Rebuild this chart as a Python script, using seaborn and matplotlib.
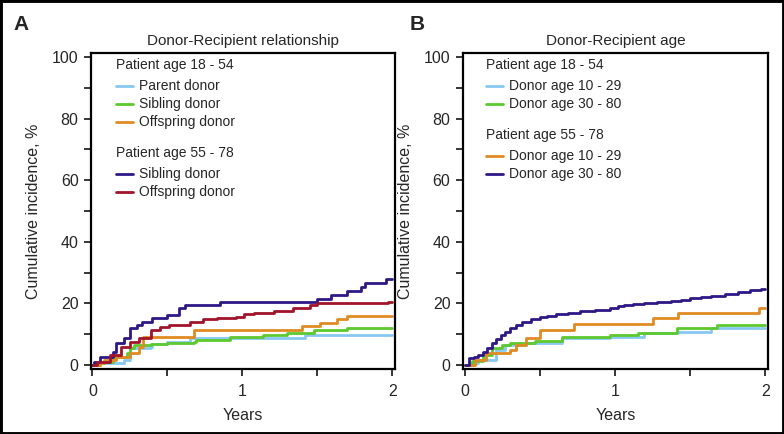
import numpy as np
import pandas as pd
import matplotlib
matplotlib.use('Agg')
import matplotlib.pyplot as plt
import seaborn as sns
from matplotlib.ticker import MultipleLocator
from matplotlib.patches import Rectangle

# Panel A: donor-recipient relationship (years, cumulative incidence %)
a_parent_t = [0, 0.03, 0.21, 0.25, 0.39, 0.40, 0.50, 0.65, 1.42, 2.0]
a_parent_v = [0, 0.7, 1.6, 5.4, 5.9, 6.8, 7.6, 8.7, 9.7, 9.7]
a_sibling_t = [0, 0.05, 0.14, 0.23, 0.25, 0.28, 0.39, 0.50, 0.68, 0.69, 0.92, 1.14, 1.30, 1.48, 1.70, 2.0]
a_sibling_v = [0, 1.0, 2.7, 3.8, 5.4, 6.5, 6.8, 7.2, 7.6, 8.1, 9.0, 9.7, 10.5, 11.4, 11.9, 11.9]
a_offspring_t = [0, 0.05, 0.08, 0.16, 0.25, 0.31, 0.34, 0.68, 1.40, 1.52, 1.63, 1.70, 2.0]
a_offspring_v = [0, 0.8, 1.6, 2.7, 3.8, 5.9, 9.2, 11.4, 12.5, 13.5, 14.8, 16.0, 16.0]
a_sib_old_t = [0, 0.01, 0.05, 0.14, 0.16, 0.21, 0.25, 0.30, 0.33, 0.40, 0.50, 0.58, 0.62, 0.85,
               1.50, 1.59, 1.70, 1.79, 1.82, 1.96, 2.0]
a_sib_old_v = [0, 1.0, 2.7, 4.3, 7.0, 8.7, 12.0, 13.0, 14.0, 15.2, 16.2, 18.4, 19.5, 20.6,
               21.4, 22.7, 24.1, 25.4, 26.7, 27.9, 27.9]
a_off_old_t = [0, 0.03, 0.12, 0.19, 0.25, 0.31, 0.39, 0.45, 0.51, 0.65, 0.74, 0.83, 0.96, 1.01,
               1.08, 1.21, 1.34, 1.45, 1.50, 1.97, 2.0]
a_off_old_v = [0, 1.0, 3.2, 5.9, 7.6, 8.7, 11.4, 12.2, 13.0, 14.1, 14.8, 15.2, 15.7, 16.5,
               17.0, 17.6, 18.4, 19.5, 20.0, 20.6, 20.6]

# Panel B: donor-recipient age
b_young_1029_t = [0, 0.04, 0.09, 0.21, 0.27, 0.41, 0.65, 0.97, 1.19, 1.41, 1.64, 2.0]
b_young_1029_v = [0, 0.8, 1.6, 4.9, 6.5, 7.2, 8.7, 9.2, 10.3, 10.8, 11.9, 11.9]
b_young_3080_t = [0, 0.05, 0.12, 0.18, 0.25, 0.30, 0.47, 0.65, 0.97, 1.15, 1.41, 1.68, 2.0]
b_young_3080_v = [0, 1.2, 3.2, 5.4, 6.5, 7.0, 7.9, 9.0, 9.7, 10.5, 11.9, 13.0, 13.0]
b_old_1029_t = [0, 0.07, 0.14, 0.30, 0.34, 0.41, 0.50, 0.73, 1.25, 1.42, 1.96, 2.0]
b_old_1029_v = [0, 1.6, 3.8, 4.9, 6.5, 8.7, 11.4, 13.2, 15.2, 16.8, 18.4, 18.4]
b_old_3080_t = [0, 0.03, 0.06, 0.09, 0.12, 0.15, 0.18, 0.21, 0.24, 0.27, 0.30, 0.34, 0.38, 0.44,
                0.50, 0.55, 0.61, 0.69, 0.77, 0.87, 0.97, 1.02, 1.06, 1.12, 1.19, 1.28, 1.37,
                1.44, 1.50, 1.57, 1.64, 1.73, 1.82, 1.90, 1.97, 2.0]
b_old_3080_v = [0, 2.2, 2.7, 3.2, 4.3, 5.4, 7.0, 8.4, 9.7, 10.8, 11.9, 13.0, 14.1, 14.8,
                15.5, 16.0, 16.5, 17.0, 17.6, 18.0, 18.4, 19.0, 19.5, 19.9, 20.2, 20.5, 20.8,
                21.2, 21.6, 22.0, 22.4, 23.1, 23.8, 24.2, 24.7, 24.7]

LIGHTBLUE = '#86C8F0'
GREEN = '#5CC92E'
ORANGE = '#E08A22'
PURPLE = '#2F1786'
RED = '#A0142C'

a_series = {
    'Parent donor (18-54)': (a_parent_t, a_parent_v, LIGHTBLUE),
    'Sibling donor (18-54)': (a_sibling_t, a_sibling_v, GREEN),
    'Offspring donor (18-54)': (a_offspring_t, a_offspring_v, ORANGE),
    'Sibling donor (55-78)': (a_sib_old_t, a_sib_old_v, PURPLE),
    'Offspring donor (55-78)': (a_off_old_t, a_off_old_v, RED),
}
b_series = {
    'Donor age 10 - 29 (18-54)': (b_young_1029_t, b_young_1029_v, LIGHTBLUE),
    'Donor age 30 - 80 (18-54)': (b_young_3080_t, b_young_3080_v, GREEN),
    'Donor age 10 - 29 (55-78)': (b_old_1029_t, b_old_1029_v, ORANGE),
    'Donor age 30 - 80 (55-78)': (b_old_3080_t, b_old_3080_v, PURPLE),
}


def to_long(series):
    rows = []
    for name, (t, v, c) in series.items():
        for x, y in zip(t, v):
            rows.append({'Years': x, 'CI': y, 'group': name})
    return pd.DataFrame(rows)


sns.set_style('ticks')
plt.rcParams['font.family'] = ['Liberation Sans', 'DejaVu Sans']
narrow = ['Liberation Sans Narrow', 'Liberation Sans']

fig = plt.figure(figsize=(7.84, 4.34), dpi=100)
W, H = 784, 434


def add_axes(left, top, right, bottom):
    return fig.add_axes([left / W, 1 - bottom / H, (right - left) / W, (bottom - top) / H])


axA = add_axes(91, 53, 395, 369)
axB = add_axes(463, 53, 768, 369)


def draw_panel(ax, series, title, legend_groups, lx):
    df = to_long(series)
    pal = {k: v[2] for k, v in series.items()}
    sns.lineplot(data=df, x='Years', y='CI', hue='group', palette=pal,
                 hue_order=list(series.keys()), estimator=None, sort=False,
                 drawstyle='steps-post', linewidth=2.0, legend=False, ax=ax)
    ax.set_xlim(-0.01, 2.017)
    ax.set_ylim(-1.3, 101.3)
    ax.xaxis.set_major_locator(MultipleLocator(1))
    ax.xaxis.set_minor_locator(MultipleLocator(0.5))
    ax.yaxis.set_major_locator(MultipleLocator(20))
    ax.yaxis.set_minor_locator(MultipleLocator(10))
    ax.tick_params(which='both', length=5, width=1.3, direction='out', labelsize=11.5, pad=4)
    ax.tick_params(axis='x', pad=6)
    for s in ax.spines.values():
        s.set_linewidth(1.6)
        s.set_color('black')
    ax.set_xlabel('Years', family=narrow, fontsize=11.5, labelpad=6)
    ax.set_ylabel('Cumulative incidence, %', family=narrow, fontsize=11.5, labelpad=8)
    ax.set_title(title, fontsize=11, pad=6)

    # legend drawn as header + line samples
    y = 0.962
    for header, names in legend_groups:
        ax.text(lx[0], y, header, transform=ax.transAxes, fontsize=10, va='center', ha='left')
        y -= 0.066
        for label, key in names:
            ax.plot([lx[0], lx[0] + 0.056], [y, y], transform=ax.transAxes,
                    color=series[key][2], lw=2)
            ax.text(lx[0] + 0.076, y, label, transform=ax.transAxes, fontsize=10,
                    va='center', ha='left')
            y -= 0.057
        y -= 0.042


draw_panel(axA, a_series, 'Donor-Recipient relationship',
           [('Patient age 18 - 54', [('Parent donor', 'Parent donor (18-54)'),
                                     ('Sibling donor', 'Sibling donor (18-54)'),
                                     ('Offspring donor', 'Offspring donor (18-54)')]),
            ('Patient age 55 - 78', [('Sibling donor', 'Sibling donor (55-78)'),
                                     ('Offspring donor', 'Offspring donor (55-78)')])],
           (0.082,))
draw_panel(axB, b_series, 'Donor-Recipient age',
           [('Patient age 18 - 54', [('Donor age 10 - 29', 'Donor age 10 - 29 (18-54)'),
                                     ('Donor age 30 - 80', 'Donor age 30 - 80 (18-54)')]),
            ('Patient age 55 - 78', [('Donor age 10 - 29', 'Donor age 10 - 29 (55-78)'),
                                     ('Donor age 30 - 80', 'Donor age 30 - 80 (55-78)')])],
           (0.074,))

fig.text(13 / W, 1 - 25 / H, 'A', fontsize=15, fontweight='bold', va='center', ha='left')
fig.text(410 / W, 1 - 25 / H, 'B', fontsize=15, fontweight='bold', va='center', ha='left')

fig.patches.append(Rectangle((0, 0), 1, 1, transform=fig.transFigure, fill=False,
                             edgecolor='black', linewidth=3.5))

fig.savefig('out.png', dpi=100)
